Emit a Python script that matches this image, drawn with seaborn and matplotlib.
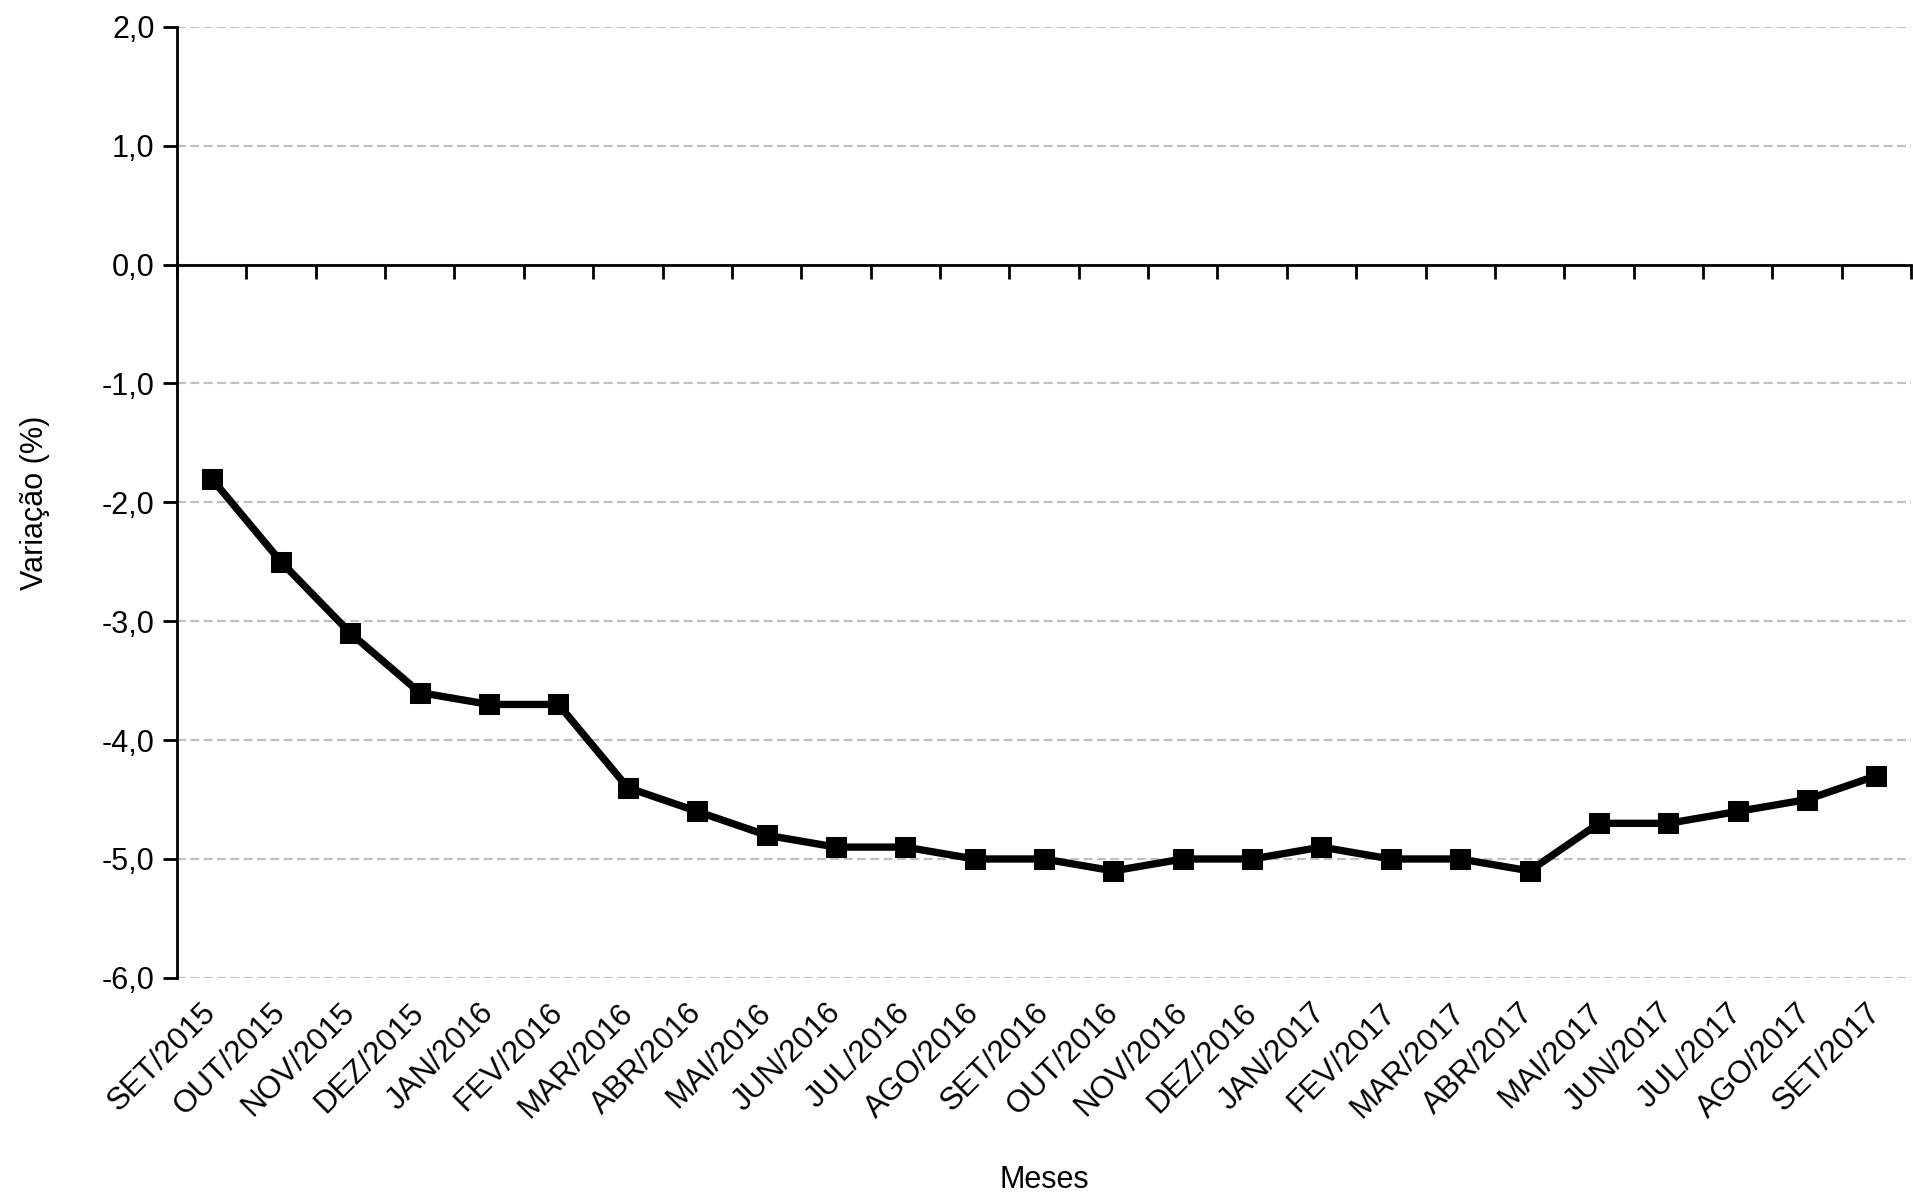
import matplotlib
matplotlib.use("Agg")
from matplotlib import pyplot as plt
import seaborn as sns
import pandas as pd
import numpy as np

meses = ["SET/2015", "OUT/2015", "NOV/2015", "DEZ/2015", "JAN/2016", "FEV/2016",
         "MAR/2016", "ABR/2016", "MAI/2016", "JUN/2016", "JUL/2016", "AGO/2016",
         "SET/2016", "OUT/2016", "NOV/2016", "DEZ/2016", "JAN/2017", "FEV/2017",
         "MAR/2017", "ABR/2017", "MAI/2017", "JUN/2017", "JUL/2017", "AGO/2017",
         "SET/2017"]
variacao = [-1.8, -2.5, -3.1, -3.6, -3.7, -3.7, -4.4, -4.6, -4.8, -4.9, -4.9, -5.0,
            -5.0, -5.1, -5.0, -5.0, -4.9, -5.0, -5.0, -5.1, -4.7, -4.7, -4.6, -4.5,
            -4.3]
y_ticks = [2.0, 1.0, 0.0, -1.0, -2.0, -3.0, -4.0, -5.0, -6.0]

sns.set_theme(style="white")
plt.rcParams['font.family'] = ['Liberation Sans', 'DejaVu Sans']
plt.rcParams['text.color'] = 'black'
plt.rcParams['axes.labelcolor'] = 'black'
plt.rcParams['xtick.color'] = 'black'
plt.rcParams['ytick.color'] = 'black'
fs = 22

df = pd.DataFrame({"mes": meses, "var": variacao})
df["pos"] = np.arange(len(meses))

fig, ax = plt.subplots(figsize=(19.13, 11.94), dpi=100)
fig.subplots_adjust(left=0.0925, right=0.999, top=0.9776, bottom=0.181)

# grid lines
for v in y_ticks:
    ax.axhline(v, color="#c0c0c0", lw=1.6, ls=(0, (4, 2)), zorder=0)

sns.lineplot(data=df, x="pos", y="var", color="black", lw=5.3, marker="s",
             markersize=14, markeredgecolor="black", ax=ax, zorder=3)

ax.set_xlim(-0.5, len(meses) - 0.5)
ax.set_ylim(-6, 2)
ax.set_yticks(y_ticks)
ax.set_yticklabels([("%.1f" % v).replace(".", ",") for v in y_ticks], fontsize=fs)
ax.set_xticks(df["pos"])
ax.set_xticklabels(meses, rotation=45, ha="right", va="center",
                   rotation_mode="anchor", fontsize=fs + 0.5)
ax.tick_params(axis="x", length=0, pad=22)
ax.tick_params(axis="y", direction="out", length=10, width=2, color="black", left=True, pad=6)

for s in ["top", "right", "bottom"]:
    ax.spines[s].set_visible(False)
ax.spines["left"].set_color("black")
ax.spines["left"].set_linewidth(2)

# zero axis with tick marks between categories
sec = ax.secondary_xaxis(0.75)
sec.set_xticks(np.arange(len(meses) + 1) - 0.5)
sec.set_xticklabels([])
sec.tick_params(direction="in", length=10, width=2, color="black")
sec.spines["bottom"].set_visible(False)
for s in sec.spines.values():
    s.set_color("black")
    s.set_linewidth(2)

ax.set_xlabel("Meses", fontsize=fs)
ax.xaxis.set_label_coords(0.5, -0.197)
ax.set_ylabel("Variação (%)", fontsize=fs)
ax.yaxis.set_label_coords(-0.073, 0.5)

plt.savefig("out.png", dpi=100)
